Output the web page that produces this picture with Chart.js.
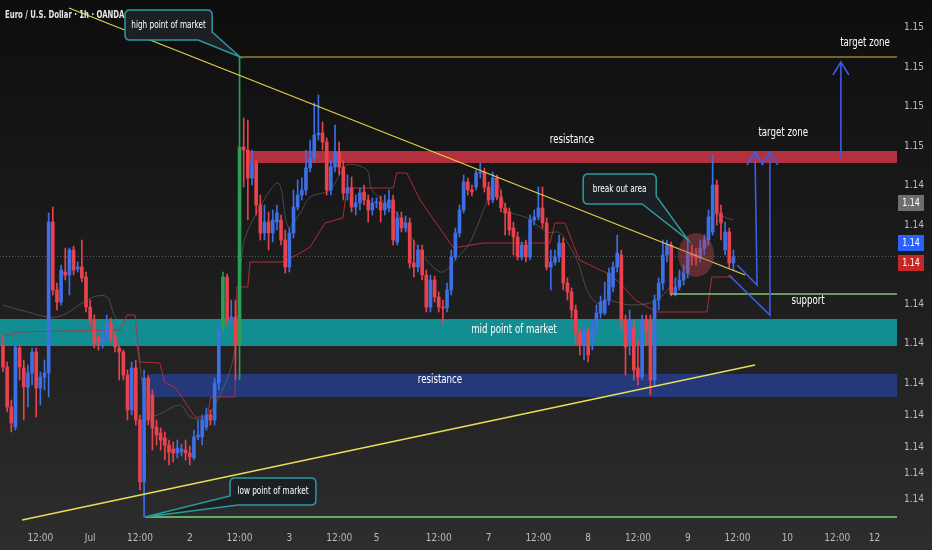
<!DOCTYPE html>
<html>
<head>
<meta charset="utf-8">
<script src="https://cdn.jsdelivr.net/npm/chart.js@4.4.1/dist/chart.umd.min.js"></script>
<style>
  html, body { margin: 0; background: #141414; }
  #wrap { width: 932px; height: 550px; position: relative; }
</style>
</head>
<body>
<div id="wrap"><canvas id="fx"></canvas></div>
<script>
// EUR/USD 1h candles (index 0 = first bar on the left)
const opens = [
  1.14140,1.14096,1.14016,1.13976,1.14134,1.14094,1.14056,1.14084,1.14126,1.14054,
  1.14076,1.14084,1.14386,1.14250,1.14226,1.14286,1.14280,1.14330,1.14292,1.14296,
  1.14276,1.14216,1.14190,1.14156,1.14144,1.14156,1.14184,1.14156,1.14134,1.14126,
  1.14080,1.14010,1.14094,1.13990,1.13866,1.14074,1.14040,1.13976,1.13964,1.13954,
  1.13940,1.13932,1.13924,1.13926,1.13930,1.13924,1.13914,1.13956,1.13956,1.13976,
  1.14000,1.13990,1.14064,1.14176,1.14276,1.14190,1.14196,1.14140,1.14536,1.14530,
  1.14474,1.14504,1.14420,1.14364,1.14386,1.14364,1.14386,1.14390,1.14350,1.14296,
  1.14364,1.14416,1.14440,1.14450,1.14494,1.14514,1.14560,1.14564,1.14546,1.14450,
  1.14496,1.14526,1.14496,1.14444,1.14454,1.14416,1.14424,1.14446,1.14430,1.14410,
  1.14424,1.14426,1.14410,1.14414,1.14430,1.14346,1.14394,1.14374,1.14384,1.14304,
  1.14296,1.14330,1.14280,1.14216,1.14270,1.14236,1.14216,1.14214,1.14250,1.14316,
  1.14364,1.14410,1.14466,1.14450,1.14456,1.14484,1.14486,1.14456,1.14430,1.14474,
  1.14436,1.14414,1.14406,1.14374,1.14356,1.14316,1.14340,1.14316,1.14390,1.14396,
  1.14414,1.14384,1.14296,1.14306,1.14316,1.14344,1.14264,1.14246,1.14210,1.14164,
  1.14140,1.14166,1.14154,1.14174,1.14204,1.14204,1.14230,1.14256,1.14296,1.14320,
  1.14190,1.14150,1.14176,1.14094,1.14076,1.14190,1.14190,1.14070,1.14230,1.14264,
  1.14320,1.14340,1.14244,1.14256,1.14270,1.14284,1.14324,1.14320,1.14314,1.14334,
  1.14350,1.14366,1.14460,1.14404,1.14330,1.14366,1.14304
];
const highs = [
  1.14160,1.14106,1.14030,1.14144,1.14140,1.14110,1.14100,1.14134,1.14134,1.14086,
  1.14110,1.14404,1.14416,1.14264,1.14300,1.14334,1.14334,1.14338,1.14306,1.14350,
  1.14286,1.14230,1.14200,1.14160,1.14170,1.14200,1.14194,1.14164,1.14140,1.14130,
  1.14090,1.14106,1.14110,1.14000,1.14090,1.14080,1.14050,1.13990,1.13974,1.13966,
  1.13950,1.13946,1.13950,1.13942,1.13950,1.13938,1.13970,1.13990,1.14000,1.14014,
  1.14010,1.14074,1.14180,1.14286,1.14282,1.14230,1.14230,1.14716,1.14594,1.14590,
  1.14530,1.14510,1.14440,1.14420,1.14406,1.14410,1.14420,1.14400,1.14370,1.14374,
  1.14450,1.14470,1.14474,1.14530,1.14550,1.14624,1.14640,1.14586,1.14554,1.14510,
  1.14580,1.14546,1.14510,1.14480,1.14476,1.14440,1.14454,1.14460,1.14440,1.14434,
  1.14434,1.14438,1.14440,1.14450,1.14440,1.14406,1.14406,1.14398,1.14394,1.14350,
  1.14340,1.14340,1.14290,1.14280,1.14278,1.14246,1.14230,1.14264,1.14330,1.14374,
  1.14420,1.14480,1.14474,1.14460,1.14490,1.14504,1.14494,1.14466,1.14486,1.14480,
  1.14450,1.14424,1.14414,1.14386,1.14366,1.14346,1.14350,1.14400,1.14410,1.14456,
  1.14456,1.14394,1.14330,1.14330,1.14360,1.14354,1.14274,1.14254,1.14220,1.14174,
  1.14180,1.14174,1.14190,1.14220,1.14238,1.14266,1.14294,1.14306,1.14360,1.14330,
  1.14200,1.14210,1.14190,1.14150,1.14200,1.14200,1.14200,1.14240,1.14274,1.14350,
  1.14350,1.14346,1.14274,1.14290,1.14300,1.14354,1.14340,1.14334,1.14350,1.14360,
  1.14410,1.14520,1.14470,1.14420,1.14386,1.14374,1.14330
];
const lows = [
  1.14086,1.14006,1.13966,1.13970,1.14070,1.13990,1.14016,1.14060,1.13996,1.14020,
  1.14050,1.14036,1.14240,1.14210,1.14220,1.14270,1.14240,1.14280,1.14286,1.14266,
  1.14206,1.14180,1.14134,1.14130,1.14134,1.14150,1.14146,1.14126,1.14070,1.14070,
  1.13990,1.14000,1.13980,1.13850,1.13796,1.13980,1.13930,1.13940,1.13930,1.13910,
  1.13900,1.13906,1.13914,1.13918,1.13910,1.13900,1.13910,1.13950,1.13940,1.13970,
  1.13980,1.13980,1.14050,1.14166,1.14180,1.14180,1.14070,1.14070,1.14456,1.14390,
  1.14460,1.14400,1.14350,1.14350,1.14330,1.14346,1.14370,1.14340,1.14284,1.14286,
  1.14354,1.14410,1.14430,1.14440,1.14486,1.14506,1.14550,1.14530,1.14440,1.14440,
  1.14486,1.14480,1.14430,1.14430,1.14406,1.14400,1.14410,1.14420,1.14386,1.14400,
  1.14414,1.14386,1.14400,1.14406,1.14340,1.14340,1.14366,1.14366,1.14294,1.14276,
  1.14286,1.14270,1.14206,1.14206,1.14226,1.14206,1.14184,1.14206,1.14240,1.14310,
  1.14356,1.14404,1.14440,1.14438,1.14450,1.14474,1.14446,1.14420,1.14424,1.14430,
  1.14406,1.14360,1.14360,1.14320,1.14310,1.14310,1.14306,1.14310,1.14380,1.14390,
  1.14374,1.14290,1.14250,1.14300,1.14306,1.14250,1.14230,1.14194,1.14140,1.14120,
  1.14110,1.14106,1.14130,1.14160,1.14194,1.14200,1.14220,1.14246,1.14286,1.14170,
  1.14080,1.14120,1.14070,1.14060,1.14070,1.14140,1.14040,1.14060,1.14210,1.14250,
  1.14306,1.14238,1.14238,1.14250,1.14260,1.14274,1.14300,1.14300,1.14306,1.14320,
  1.14340,1.14360,1.14380,1.14350,1.14320,1.14294,1.14290
];
const closes = [
  1.14096,1.14016,1.13984,1.14136,1.14096,1.14056,1.14084,1.14126,1.14054,1.14076,
  1.14084,1.14386,1.14250,1.14226,1.14290,1.14280,1.14330,1.14290,1.14296,1.14274,
  1.14216,1.14190,1.14144,1.14144,1.14156,1.14184,1.14156,1.14136,1.14126,1.14080,
  1.14010,1.14094,1.13990,1.13866,1.14074,1.13990,1.13974,1.13960,1.13950,1.13940,
  1.13926,1.13924,1.13934,1.13932,1.13924,1.13916,1.13956,1.13960,1.13990,1.14000,
  1.13990,1.14064,1.14170,1.14276,1.14190,1.14196,1.14140,1.14536,1.14530,1.14474,
  1.14504,1.14420,1.14364,1.14386,1.14364,1.14390,1.14404,1.14350,1.14296,1.14364,
  1.14416,1.14440,1.14450,1.14494,1.14514,1.14560,1.14564,1.14546,1.14450,1.14496,
  1.14526,1.14496,1.14444,1.14454,1.14416,1.14424,1.14444,1.14430,1.14410,1.14424,
  1.14426,1.14410,1.14424,1.14430,1.14350,1.14394,1.14374,1.14384,1.14304,1.14296,
  1.14330,1.14280,1.14216,1.14270,1.14236,1.14216,1.14214,1.14250,1.14316,1.14364,
  1.14410,1.14466,1.14450,1.14446,1.14484,1.14486,1.14456,1.14430,1.14474,1.14436,
  1.14414,1.14404,1.14370,1.14356,1.14316,1.14340,1.14316,1.14390,1.14396,1.14414,
  1.14384,1.14296,1.14306,1.14316,1.14344,1.14264,1.14246,1.14210,1.14164,1.14140,
  1.14166,1.14120,1.14174,1.14204,1.14226,1.14230,1.14284,1.14296,1.14324,1.14190,
  1.14136,1.14190,1.14090,1.14076,1.14190,1.14170,1.14070,1.14230,1.14264,1.14320,
  1.14340,1.14244,1.14256,1.14270,1.14284,1.14324,1.14318,1.14314,1.14334,1.14350,
  1.14396,1.14460,1.14404,1.14384,1.14366,1.14304,1.14316
];
// bars painted green on the chart
const greenBars = [53, 57];

// indicator lines: [bar index, price]
const redBand = [
  [0,1.14160],[2.4,1.14160],[2.9,1.14166],[28.2,1.14170],[29.9,1.14200],[31.8,1.14200],
  [33.0,1.14106],[37.8,1.14104],[39.0,1.14064],[41.4,1.14056],[46.3,1.13996],[49.2,1.13996],
  [50.1,1.14036],[55.9,1.14036],[56.4,1.14256],[59.0,1.14256],[59.5,1.14306],[67.5,1.14306],
  [71.6,1.14324],[74.0,1.14336],[77.6,1.14384],[81.9,1.14394],[82.9,1.14454],[94.0,1.14454],
  [94.9,1.14484],[97.3,1.14484],[100.5,1.14430],[108.4,1.14336],[110.1,1.14336],
  [115.7,1.14344],[131.8,1.14344],[133.0,1.14384],[135.4,1.14384],[138.9,1.14310],[145.5,1.14284],
  [148.7,1.14264],[152.3,1.14230],[157.6,1.14206],[169.6,1.14206],[170.8,1.14276],[175.9,1.14276]
];
const greyBand = [
  [0,1.14220],[4.1,1.14210],[13.0,1.14196],[21.7,1.14236],[25.1,1.14236],[27.0,1.14196],
  [31.8,1.14150],[35.4,1.14000],[42.7,1.14020],[45.1,1.13996],[49.2,1.13996],[55.4,1.14110],
  [57.8,1.14336],[60.2,1.14390],[66.3,1.14464],[68.7,1.14376],[71.6,1.14404],[74.0,1.14436],
  [78.8,1.14450],[82.9,1.14500],[87.7,1.14490],[88.9,1.14450],[94.9,1.14404],[99.8,1.14336],
  [103.6,1.14296],[106.0,1.14286],[110.1,1.14320],[112.5,1.14344],[119.0,1.14464],[121.4,1.14410],
  [126.3,1.14394],[131.1,1.14366],[134.2,1.14364],[138.3,1.14310],[140.7,1.14250],[143.1,1.14224],
  [145.5,1.14230],[151.1,1.14220],[157.6,1.14230],[163.9,1.14290],[166.7,1.14320],[169.6,1.14340],
  [170.8,1.14400],[175.9,1.14390]
];

// axes
const xTickIdx = [9, 21, 33, 45, 57, 69, 81, 90, 105, 117, 129, 141, 153, 165, 177, 189, 201, 210];
const xTickLabels = ['12:00','Jul','12:00','2','12:00','3','12:00','5','12:00','7','12:00','8','12:00','9','12:00','10','12:00','12'];
const yTicks = [1.14776,1.14696,1.14618,1.14538,1.14460,1.14380,1.14302,1.14222,1.14144,1.14064,1.14000,1.13936,1.13884,1.13832];

// drawings (bar index, price)
const highLevel = 1.14716;
const lowLevel = 1.13796;
const supportLevel = 1.14242;
const lastPrice = 1.14318;
const redZone = [1.14504, 1.14528];
const tealZone = [1.14138, 1.14192];
const blueZone = [1.14036, 1.14082];
const downTrend = [[15.9, 1.14814], [178.8, 1.14280]];
const upTrend = [[4.6, 1.13790], [181.2, 1.14100]];
const bigArrow = [[201.9, 1.14514], [201.9, 1.14706]];
const pathA = [[176.9, 1.14300], [181.7, 1.14260], [181.2, 1.14526]];
const pathB = [[174.9, 1.14280], [184.8, 1.14200], [184.8, 1.14526]];
const breakCircle = [167.0, 1.14320];
const priceTags = [[1.14424, '#6e6e6e'], [1.14344, '#2962ff'], [1.14304, '#c62828']];

const FONT = '"Liberation Sans Narrow", "DejaVu Sans Condensed", Arial, sans-serif';
const UP = '#3d6fe6', DOWN = '#e8424f', GREEN = '#2f9e55';

function candleColor(i) {
  if (greenBars.includes(i)) return GREEN;
  return closes[i] >= opens[i] ? UP : DOWN;
}

// narrow text like the TradingView labels
function narrowText(ctx, text, x, y, font, squeeze, align) {
  ctx.save();
  ctx.font = font;
  ctx.textAlign = align || 'center';
  ctx.textBaseline = 'middle';
  ctx.translate(x, y);
  ctx.scale(squeeze, 1);
  ctx.fillText(text, 0, 0);
  ctx.restore();
}

const drawings = {
  id: 'drawings',
  beforeDraw(chart) {
    const { ctx, width, height } = chart;
    const g = ctx.createLinearGradient(0, 0, 0, height);
    g.addColorStop(0, '#0d0d0d');
    g.addColorStop(1, '#2d2d2d');
    ctx.save();
    ctx.fillStyle = g;
    ctx.fillRect(0, 0, width, height);
    ctx.restore();
  },
  beforeDatasetsDraw(chart) {
    const { ctx, chartArea: a, scales: { x, y } } = chart;
    const X = v => x.getPixelForValue(v), Y = v => y.getPixelForValue(v);
    ctx.save();
    ctx.beginPath(); ctx.rect(a.left, a.top, a.right - a.left, a.bottom - a.top); ctx.clip();
    const zone = (from, band, color) => {
      ctx.fillStyle = color;
      const x0 = from === null ? a.left : X(from);
      ctx.fillRect(x0, Y(band[1]), a.right - x0, Y(band[0]) - Y(band[1]));
    };
    zone(null, tealZone, '#128d92');
    zone(35.4, blueZone, '#24387a');
    zone(59.0, redZone, '#b3303f');

    ctx.strokeStyle = 'rgba(150,150,150,0.55)';
    ctx.setLineDash([1, 2]);
    ctx.lineWidth = 1;
    const py = Math.round(Y(lastPrice)) + 0.5;
    ctx.beginPath(); ctx.moveTo(a.left, py); ctx.lineTo(a.right, py); ctx.stroke();
    ctx.restore();
  },
  afterDatasetsDraw(chart) {
    const { ctx, chartArea: a, scales: { x, y } } = chart;
    const X = v => x.getPixelForValue(v), Y = v => y.getPixelForValue(v);
    ctx.save();
    ctx.beginPath(); ctx.rect(a.left, a.top, a.right - a.left, a.bottom - a.top); ctx.clip();

    const hline = (from, p, color, w) => {
      ctx.strokeStyle = color; ctx.lineWidth = w;
      ctx.beginPath(); ctx.moveTo(X(from), Y(p)); ctx.lineTo(a.right, Y(p)); ctx.stroke();
    };
    hline(57.1, highLevel, '#c9b543', 1.2);
    hline(34.2, lowLevel, '#5fae62', 2);
    hline(160.7, supportLevel, '#86c46e', 1.5);

    const poly = (pts, color, w) => {
      ctx.strokeStyle = color; ctx.lineWidth = w; ctx.lineJoin = 'miter';
      ctx.beginPath();
      pts.forEach((p, k) => k ? ctx.lineTo(X(p[0]), Y(p[1])) : ctx.moveTo(X(p[0]), Y(p[1])));
      ctx.stroke();
    };
    poly(downTrend, '#e3d24b', 1.2);
    poly(upTrend, '#e8dc58', 1.6);

    // break out circle
    ctx.fillStyle = 'rgba(190,70,80,0.42)';
    ctx.beginPath();
    ctx.ellipse(X(breakCircle[0]), Y(breakCircle[1]), 18, 22, 0, 0, Math.PI * 2);
    ctx.fill();

    // arrows
    const arrow = (pts) => {
      poly(pts, '#3a5de8', 1.6);
      const t = pts[pts.length - 1];
      const tx = X(t[0]), ty = Y(t[1]);
      ctx.beginPath();
      ctx.moveTo(tx - 8, ty + 13); ctx.lineTo(tx, ty); ctx.lineTo(tx + 8, ty + 13);
      ctx.stroke();
    };
    arrow(bigArrow);
    arrow(pathA);
    arrow(pathB);

    // labels
    ctx.fillStyle = '#ffffff';
    const lf = '12px ' + FONT;
    narrowText(ctx, 'resistance', X(137.1), Y(1.14550), lf, 0.8);
    narrowText(ctx, 'mid point of market', X(123.1), Y(1.14170), lf, 0.8);
    narrowText(ctx, 'resistance', X(105.3), Y(1.14070), lf, 0.8);
    narrowText(ctx, 'support', X(194.0), Y(1.14228), lf, 0.8);
    narrowText(ctx, 'target zone', X(188.0), Y(1.14564), lf, 0.8);
    narrowText(ctx, 'target zone', X(207.7), Y(1.14744), lf, 0.8);

    // callouts: box [i0, i1, p0, p1], tip [i, p], side of pointer
    const callout = (text, box, tip, side) => {
      const l = X(box[0]), r = X(box[1]), t = Y(box[2]), b = Y(box[3]);
      const tx = X(tip[0]), ty = Y(tip[1]);
      const rad = 5;
      ctx.fillStyle = '#1c2024';
      ctx.strokeStyle = '#2a9a9f';
      ctx.lineWidth = 1.5;
      ctx.beginPath();
      ctx.moveTo(l + rad, t);
      ctx.lineTo(r - rad, t); ctx.quadraticCurveTo(r, t, r, t + rad);
      if (side === 'right') {
        ctx.lineTo(r, b - 8); ctx.lineTo(tx, ty); ctx.lineTo(r - 14, b);
      } else {
        ctx.lineTo(r, b - rad); ctx.quadraticCurveTo(r, b, r - rad, b);
      }
      if (side === 'left') {
        ctx.lineTo(l + 8, b); ctx.lineTo(tx, ty); ctx.lineTo(l, b - 9);
      } else {
        ctx.lineTo(l + rad, b); ctx.quadraticCurveTo(l, b, l, b - rad);
      }
      ctx.lineTo(l, t + rad); ctx.quadraticCurveTo(l, t, l + rad, t);
      ctx.closePath();
      ctx.fill(); ctx.stroke();
      ctx.fillStyle = '#ffffff';
      narrowText(ctx, text, (l + r) / 2, (t + b) / 2, '11px ' + FONT, 0.74);
    };
    callout('high point of market', [29.4, 50.4, 1.14810, 1.14750], [57.1, highLevel], 'right');
    callout('low point of market', [54.7, 75.4, 1.13874, 1.13820], [34.2, lowLevel], 'left');
    callout('break out area', [139.8, 157.4, 1.14482, 1.14422], [165.1, 1.14350], 'right');
    ctx.restore();

    // title
    ctx.save();
    ctx.fillStyle = '#e6e6e6';
    narrowText(ctx, 'Euro / U.S. Dollar \u00b7 1h \u00b7 OANDA', 5, 15, '600 11px ' + FONT, 0.7, 'left');

    // price tags on the axis
    priceTags.forEach(([p, color]) => {
      const py = Y(p);
      ctx.fillStyle = color;
      ctx.fillRect(a.right + 1, py - 8, 26, 16);
      ctx.fillStyle = '#ffffff';
      narrowText(ctx, p.toFixed(2), a.right + 14, py, '11px ' + FONT, 0.8);
    });
    ctx.restore();
  }
};

const idx = opens.map((_, i) => i);

new Chart(document.getElementById('fx'), {
  type: 'bar',
  data: {
    datasets: [
      {
        type: 'line',
        data: redBand.map(([i, p]) => ({ x: i, y: p })),
        borderColor: 'rgba(190,45,55,0.9)',
        borderWidth: 1,
        pointRadius: 0,
        order: 4
      },
      {
        type: 'line',
        data: greyBand.map(([i, p]) => ({ x: i, y: p })),
        borderColor: 'rgba(120,120,120,0.5)',
        borderWidth: 1,
        pointRadius: 0,
        tension: 0.3,
        order: 3
      },
      {
        label: 'wick',
        data: idx.map(i => ({ x: i, y: [lows[i], highs[i]] })),
        backgroundColor: c => candleColor(c.dataIndex),
        barThickness: 1,
        grouped: false,
        order: 2
      },
      {
        label: 'body',
        data: idx.map(i => ({ x: i, y: [opens[i], closes[i]] })),
        backgroundColor: c => candleColor(c.dataIndex),
        barThickness: 3,
        minBarLength: 1,
        grouped: false,
        order: 1
      }
    ]
  },
  options: {
    responsive: true,
    maintainAspectRatio: false,
    animation: false,
    layout: { padding: 0 },
    plugins: { legend: { display: false }, tooltip: { enabled: false } },
    scales: {
      x: {
        type: 'linear',
        min: -0.723,
        max: 215.42,
        offset: false,
        grid: { display: false, drawTicks: false, offset: false },
        border: { display: false },
        afterBuildTicks: a => { a.ticks = xTickIdx.map(v => ({ value: v })); },
        afterFit: a => { a.height = 25; a.paddingLeft = 0; a.paddingRight = 0; },
        ticks: {
          autoSkip: false,
          maxRotation: 0,
          padding: 7,
          color: '#b8bbc2',
          font: { family: FONT, size: 10 },
          callback: (v, k) => xTickLabels[k]
        }
      },
      y: {
        position: 'right',
        min: 1.13780,
        max: 1.14830,
        grid: { display: false, drawTicks: false },
        border: { display: false },
        afterBuildTicks: a => { a.ticks = yTicks.map(v => ({ value: v })); },
        afterFit: a => { a.width = 35; a.paddingTop = 0; a.paddingBottom = 0; },
        ticks: {
          autoSkip: false,
          padding: 7,
          color: '#b8bbc2',
          font: { family: FONT, size: 10 },
          callback: v => v.toFixed(2)
        }
      }
    }
  },
  plugins: [drawings]
});
</script>
</body>
</html>
